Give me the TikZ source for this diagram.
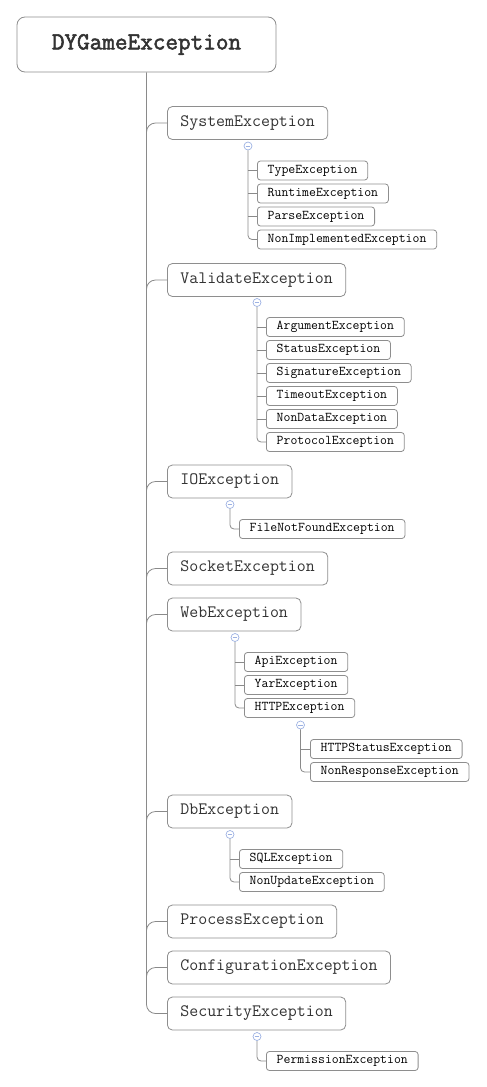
\documentclass[tikz,border=0pt]{standalone}
\usepackage{fontspec}
\setmainfont{Latin Modern Mono}
\newfontfamily\rootfont{Latin Modern Mono}[FakeBold=2.2]
\begin{document}
\definecolor{boxline}{HTML}{8E8E8E}
\definecolor{txt}{HTML}{333333}
\definecolor{wire}{HTML}{8A8A8A}
\definecolor{togglec}{HTML}{9DB2E3}
\begin{tikzpicture}[x=1pt,y=-1pt,
  rootbox/.style={draw=boxline, line width=0.8pt, rounded corners=8pt, fill=white,
    minimum width=259pt, minimum height=55pt, inner sep=0pt, text=txt,
    font=\rootfont\fontsize{24.5}{26}\selectfont},
  topbox/.style={draw=boxline, line width=0.8pt, rounded corners=5pt, fill=white, anchor=west,
    minimum height=33pt, inner xsep=13pt, inner ysep=0pt, text=txt,
    font=\fontsize{17.4}{19}\selectfont},
  subbox/.style={draw=boxline, line width=0.8pt, rounded corners=3pt, fill=white, anchor=west,
    minimum height=19pt, inner xsep=10.3pt, inner ysep=0pt, text=black,
    font=\fontsize{13.4}{15}\selectfont},
  toggle/.style={circle, draw=togglec, fill=white, line width=0.7pt, minimum size=8pt, inner sep=0pt,
    path picture={\draw[togglec, line width=0.9pt]
      ([xshift=-2.3pt]path picture bounding box.center) -- ([xshift=2.3pt]path picture bounding box.center);}},
  trunk/.style={draw=wire, line width=0.8pt, rounded corners=9pt},
  twig/.style={draw=wire, line width=0.8pt, rounded corners=4pt},
  stub/.style={draw=wire, line width=0.8pt}
]
\useasboundingbox (0,0) rectangle (487,1087);

% root
\node[rootbox] (root) at (146.5,44.5) {DYGameException};

% first level
\node[topbox] (sys)  at (167,123)  {SystemException};
\node[topbox] (val)  at (167,280)  {ValidateException};
\node[topbox] (io)   at (167,481.5){IOException};
\node[topbox] (sock) at (167,568.5){SocketException};
\node[topbox] (web)  at (167,614.5){WebException};
\node[topbox] (db)   at (167,811.5){DbException};
\node[topbox] (proc) at (167,921.5){ProcessException};
\node[topbox] (conf) at (167,967.5){ConfigurationException};
\node[topbox] (sec)  at (167,1013.5){SecurityException};

% trunk: one bent line to the last child, curved stubs to the others
\draw[trunk] (root.south) |- (sec.west);
\foreach \c in {sys,val,io,sock,web,db,proc,conf}
  \draw[trunk] ([yshift=-9pt]root.south |- \c.west) |- (\c.west);

% SystemException
\node[toggle] (tsys) at (248,146) {};
\node[subbox] (type) at (257,170.5) {TypeException};
\node[subbox] (run)  at (257,193.5) {RuntimeException};
\node[subbox] (pars) at (257,216.5) {ParseException};
\node[subbox] (nimp) at (257,239.5) {NonImplementedException};
\draw[twig] (tsys.south) |- (nimp.west);
\foreach \c in {type,run,pars} \draw[stub] (tsys.south |- \c.west) -- (\c.west);

% ValidateException
\node[toggle] (tval) at (257,302.5) {};
\node[subbox] (arg)  at (266,327) {ArgumentException};
\node[subbox] (stat) at (266,350) {StatusException};
\node[subbox] (sig)  at (266,373) {SignatureException};
\node[subbox] (tout) at (266,396) {TimeoutException};
\node[subbox] (ndat) at (266,419) {NonDataException};
\node[subbox] (prot) at (266,442) {ProtocolException};
\draw[twig] (tval.south) |- (prot.west);
\foreach \c in {arg,stat,sig,tout,ndat} \draw[stub] (tval.south |- \c.west) -- (\c.west);

% IOException
\node[toggle] (tio) at (230,504.5) {};
\node[subbox] (fnf) at (239,529) {FileNotFoundException};
\draw[twig] (tio.south) |- (fnf.west);

% WebException
\node[toggle] (tweb) at (235,637.5) {};
\node[subbox] (api)  at (244,662) {ApiException};
\node[subbox] (yar)  at (244,685) {YarException};
\node[subbox] (http) at (244,708) {HTTPException};
\draw[twig] (tweb.south) |- (http.west);
\foreach \c in {api,yar} \draw[stub] (tweb.south |- \c.west) -- (\c.west);

% HTTPException
\node[toggle] (thttp) at (300.5,725) {};
\node[subbox] (hst)  at (310,749) {HTTPStatusException};
\node[subbox] (nres) at (310,772) {NonResponseException};
\draw[twig] (thttp.south) |- (nres.west);
\draw[stub] (thttp.south |- hst.west) -- (hst.west);

% DbException
\node[toggle] (tdb) at (230,834.5) {};
\node[subbox] (sql) at (239,859) {SQLException};
\node[subbox] (nup) at (239,882) {NonUpdateException};
\draw[twig] (tdb.south) |- (nup.west);
\draw[stub] (tdb.south |- sql.west) -- (sql.west);

% SecurityException
\node[toggle] (tsec) at (257,1036.5) {};
\node[subbox] (perm) at (266,1061) {PermissionException};
\draw[twig] (tsec.south) |- (perm.west);
\end{tikzpicture}
\end{document}
